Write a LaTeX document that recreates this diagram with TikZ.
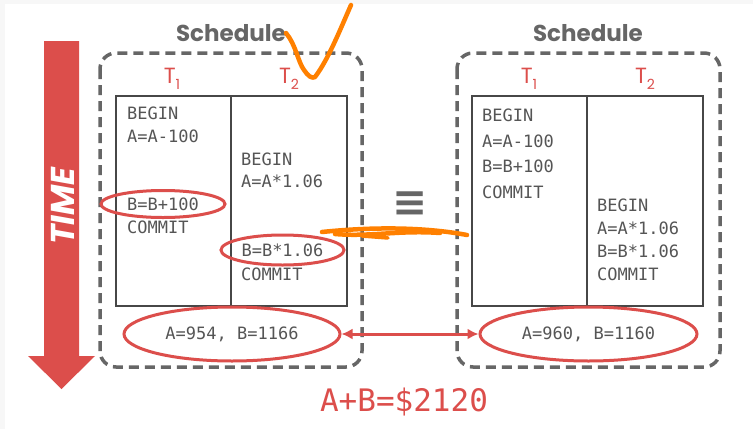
\documentclass[tikz,border=0pt]{standalone}
\usepackage{fontspec}
\setmainfont{Poppins}
\setmonofont{DejaVu Sans Mono}
\newfontfamily\dejavu{DejaVu Sans}
\usetikzlibrary{positioning,shapes.geometric,arrows.meta}
\definecolor{slred}{HTML}{DC4E4B}
\definecolor{slgray}{HTML}{666666}
\definecolor{optext}{HTML}{555555}
\definecolor{scribble}{HTML}{FF8000}
\newcommand{\txsub}[1]{\raisebox{-6pt}{\fontsize{14}{14}\selectfont #1}}

\begin{document}
\begin{tikzpicture}[x=1pt,y=-1pt]
\tikzstyle{sched}=[draw=slgray, line width=3.5pt, dash pattern=on 10pt off 6pt, rounded corners=16pt]
\tikzstyle{tabline}=[draw=slgray!70!black, line width=1.2pt]
\tikzstyle{op}=[anchor=west, inner sep=0pt, text=optext, font=\ttfamily\fontsize{17}{17}\selectfont]
\tikzstyle{ring}=[ellipse, draw=slred, line width=3pt, inner sep=0pt, text=optext, font=\ttfamily\fontsize{17}{17}\selectfont]
\tikzstyle{title}=[text=slgray, font=\bfseries\fontsize{23}{23}\selectfont]
\tikzstyle{txn}=[anchor=base, inner sep=0pt, text=slred, font=\fontsize{22}{22}\selectfont]
\tikzstyle{pen}=[draw=scribble, line width=4.5pt, line cap=round, line join=round]
\useasboundingbox (0,0) rectangle (753,429);
\fill[gray!6] (0,0) rectangle (753,429);
\fill[white] (5,4) rectangle (753,429);
% time arrow
\fill[slred] (44,41) -- (79,41) -- (79,356) -- (95,356) -- (61.5,389) -- (28,356) -- (44,356) -- cycle;
\node[rotate=90, text=white, font=\bfseries\itshape\fontsize{33}{33}\selectfont] (time) at (63,206) {TIME};
% schedules
\draw[sched] (100,53) rectangle (362,367);
\draw[sched] (457,53) rectangle (720,367);
\node[title] (s1) at (231,33) {Schedule};
\node[title] (s2) at (588,33) {Schedule};
\draw[tabline] (116,96) rectangle (347,306);
\draw[tabline] (231,96) -- (231,306);
\draw[tabline] (472,96) rectangle (703,306);
\draw[tabline] (587,96) -- (587,306);
\node[txn] (l1) at (172,83) {T\txsub{1}};
\node[txn] (l2) at (289,83) {T\txsub{2}};
\node[txn] (r1t) at (529,83) {T\txsub{1}};
\node[txn] (r2t) at (645,83) {T\txsub{2}};
% first schedule
\node[op] (l1a) at (127,113) {BEGIN};
\node[op] (l1b) at (127,136) {A=A-100};
\node[ring, minimum width=124pt, minimum height=27pt] (l1c) at (163,204) {B=B+100};
\node[op] (l1d) at (127,227) {COMMIT};
\node[op] (l2a) at (241,159) {BEGIN};
\node[op] (l2b) at (241,181) {A=A*1.06};
\node[ring, minimum width=123pt, minimum height=30pt] (l2c) at (282.5,250) {B=B*1.06};
\node[op] (l2d) at (241,274) {COMMIT};
% second schedule
\node[op] (r1a) at (482,115) {BEGIN};
\node[op] (r1b) at (482,141) {A=A-100};
\node[op] (r1c) at (482,166) {B=B+100};
\node[op] (r1d) at (482,192) {COMMIT};
\node[op] (r2a) at (597,205) {BEGIN};
\node[op] (r2b) at (597,228) {A=A*1.06};
\node[op] (r2c) at (597,251) {B=B*1.06};
\node[op] (r2d) at (597,274) {COMMIT};
% results
\node[ring, minimum width=216pt, minimum height=54pt] (res1) at (232,334) {A=954, B=1166};
\node[ring, minimum width=217pt, minimum height=54pt] (res2) at (588.5,334) {A=960, B=1160};
\draw[slred, line width=3pt, {Latex[length=11pt,width=11pt]}-{Latex[length=11pt,width=11pt]}] (res1) -- (res2);
\node[text=slgray, font=\dejavu\bfseries\fontsize{42}{42}\selectfont] (eq) at (410,204) {≡};
\node[text=slred, font=\ttfamily\fontsize{31}{31}\selectfont] (sum) at (404,402) {A+B=\$2120};
% pen marks
\draw[pen] (286,33) .. controls (296,45) and (298,62) .. (304,70) .. controls (308,76) and (312,79) .. (315,77) .. controls (328,60) and (340,30) .. (351,5);
\draw[pen] (322,232) .. controls (380,226) and (430,228) .. (467,235);
\draw[pen] (335,234) .. controls (370,237) and (400,230) .. (440,233);
\draw[pen, line width=3.5pt] (362,236) -- (388,238);
\end{tikzpicture}
\end{document}
